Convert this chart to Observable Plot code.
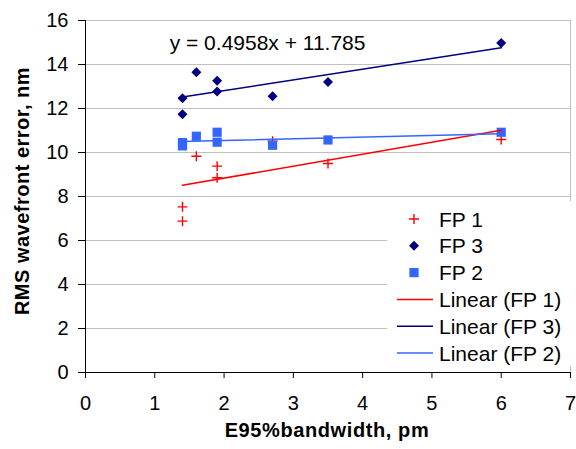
<!DOCTYPE html>
<html>
<head>
<meta charset="utf-8">
<script src="https://cdn.jsdelivr.net/npm/d3@7"></script>
<script src="https://cdn.jsdelivr.net/npm/@observablehq/plot@0.6"></script>
<style>
  html, body { margin: 0; padding: 0; background: #fff; }
  #chart svg { display: block; }
</style>
</head>
<body>
<div id="chart"></div>
<script>
// ---- data ----
const fp1X = [1.4, 1.4, 1.6, 1.9, 1.9, 2.7, 3.5, 6];
const fp1Y = [7.53, 6.88, 9.83, 9.38, 8.85, 10.51, 9.5, 10.59];
const fp3X = [1.4, 1.4, 1.6, 1.9, 1.9, 2.7, 3.5, 6];
const fp3Y = [12.47, 11.74, 13.65, 13.26, 12.77, 12.56, 13.2, 14.98];
const fp2X = [1.4, 1.4, 1.6, 1.9, 1.9, 2.7, 3.5, 6];
const fp2Y = [10.45, 10.3, 10.74, 10.92, 10.47, 10.33, 10.57, 10.92];

const xTicks = [0, 1, 2, 3, 4, 5, 6, 7];
const yTicks = [0, 2, 4, 6, 8, 10, 12, 14, 16];
const seriesNames = ["FP 1", "FP 3", "FP 2"];
const trendNames = ["Linear (FP 1)", "Linear (FP 3)", "Linear (FP 2)"];
const equationText = "y = 0.4958x + 11.785";
const xTitle = "E95%bandwidth, pm";
const yTitle = "RMS wavefront error, nm";

const colors = {"FP 1": "#ff0000", "FP 3": "#000080", "FP 2": "#3366ff"};

const toRows = (name, xs, ys) => xs.map((x, i) => ({series: name, x, y: ys[i]}));
const fp1 = toRows("FP 1", fp1X, fp1Y);
const fp3 = toRows("FP 3", fp3X, fp3Y);
const fp2 = toRows("FP 2", fp2X, fp2Y);

// ---- symbols ----
const diamond = {draw(ctx, size) { const r = Math.sqrt(size / Math.PI); ctx.moveTo(0, -r); ctx.lineTo(r, 0); ctx.lineTo(0, r); ctx.lineTo(-r, 0); ctx.closePath(); }};
const square = {draw(ctx, size) { const r = Math.sqrt(size / Math.PI); ctx.rect(-r, -r, 2 * r, 2 * r); }};
const plus = {draw(ctx, size) { const r = Math.sqrt(size / Math.PI); ctx.moveTo(-r, 0); ctx.lineTo(r, 0); ctx.moveTo(0, -r); ctx.lineTo(0, r); }};

const FONT = "'Liberation Sans', Arial, sans-serif";

const chart = Plot.plot({
  width: 576,
  height: 449,
  marginLeft: 85,
  marginRight: 6,
  marginTop: 20,
  marginBottom: 77,
  style: {fontFamily: FONT, fontSize: "20px", color: "#000", background: "#fff"},
  x: {domain: [0, 7], ticks: xTicks},
  y: {domain: [0, 16], ticks: yTicks},
  marks: [
    Plot.gridY(yTicks.filter(d => d > 0), {stroke: "#c0c0c0", strokeOpacity: 1, strokeWidth: 1}),
    Plot.ruleX([7], {stroke: "#c0c0c0", strokeWidth: 1}),
    Plot.axisY({ticks: yTicks, tickFormat: d3.format("d"), tickSize: 7, tickPadding: 10, fontSize: 20, label: null, stroke: "#000"}),
    Plot.axisX({ticks: xTicks, tickFormat: d3.format("d"), tickSize: 6, tickPadding: 17, fontSize: 20, label: null, stroke: "#000"}),
    Plot.ruleX([0], {stroke: "#000", strokeWidth: 1}),
    Plot.ruleY([0], {stroke: "#000", strokeWidth: 1}),
    // points
    Plot.dot(fp1, {x: "x", y: "y", symbol: plus, r: 5, stroke: colors["FP 1"], fill: "none", strokeWidth: 1.4}),
    Plot.dot(fp3, {x: "x", y: "y", symbol: diamond, r: 5, fill: colors["FP 3"], stroke: "none"}),
    Plot.dot(fp2, {x: "x", y: "y", symbol: square, r: 4.6, fill: colors["FP 2"], stroke: "none"}),
    // trend lines
    Plot.linearRegressionY(fp1, {x: "x", y: "y", stroke: colors["FP 1"], strokeWidth: 1.5, ci: 0}),
    Plot.linearRegressionY(fp3, {x: "x", y: "y", stroke: colors["FP 3"], strokeWidth: 1.5, ci: 0}),
    Plot.linearRegressionY(fp2, {x: "x", y: "y", stroke: colors["FP 2"], strokeWidth: 1.5, ci: 0}),
    // equation label
    Plot.text([equationText], {x: 1.215, y: 14.67, text: d => d, textAnchor: "start", lineAnchor: "bottom", fontSize: 21, fill: "#000"})
  ]
});

const svg = d3.select(chart);

// axis titles
svg.append("text")
  .attr("x", 327).attr("y", 437)
  .attr("text-anchor", "middle")
  .attr("font-family", FONT).attr("font-weight", "bold").attr("font-size", 20)
  .attr("letter-spacing", 0.6)
  .attr("fill", "#000")
  .text(xTitle);

svg.append("text")
  .attr("transform", "translate(29,191) rotate(-90)")
  .attr("text-anchor", "middle")
  .attr("font-family", FONT).attr("font-weight", "bold").attr("font-size", 20)
  .attr("letter-spacing", 0.5)
  .attr("fill", "#000")
  .text(yTitle);

// legend
const lg = svg.append("g").attr("text-anchor", "start");
lg.append("rect").attr("x", 387).attr("y", 201).attr("width", 189).attr("height", 165).attr("fill", "#fff");
const rowY = i => 219 + i * 26.8;
const symbols = {"FP 1": plus, "FP 3": diamond, "FP 2": square};
const symSize = {"FP 1": Math.PI * 25, "FP 3": Math.PI * 25, "FP 2": Math.PI * 4.6 * 4.6};
seriesNames.forEach((name, i) => {
  const p = lg.append("path")
    .attr("transform", `translate(414,${rowY(i)})`)
    .attr("d", d3.symbol().type(symbols[name]).size(symSize[name])());
  if (name === "FP 1") p.attr("fill", "none").attr("stroke", colors[name]).attr("stroke-width", 1.4);
  else p.attr("fill", colors[name]).attr("stroke", "none");
  lg.append("text").attr("x", 439).attr("y", rowY(i)).attr("dy", "0.36em")
    .attr("text-anchor", "start")
    .attr("font-family", FONT).attr("font-size", 21).attr("fill", "#000").text(name);
});
trendNames.forEach((name, j) => {
  const i = j + 3;
  lg.append("line").attr("x1", 397).attr("x2", 433).attr("y1", rowY(i)).attr("y2", rowY(i))
    .attr("stroke", colors[seriesNames[j]]).attr("stroke-width", 1.5);
  lg.append("text").attr("x", 439).attr("y", rowY(i)).attr("dy", "0.36em")
    .attr("text-anchor", "start")
    .attr("font-family", FONT).attr("font-size", 21).attr("fill", "#000").text(name);
});

document.getElementById("chart").appendChild(chart);
</script>
</body>
</html>
